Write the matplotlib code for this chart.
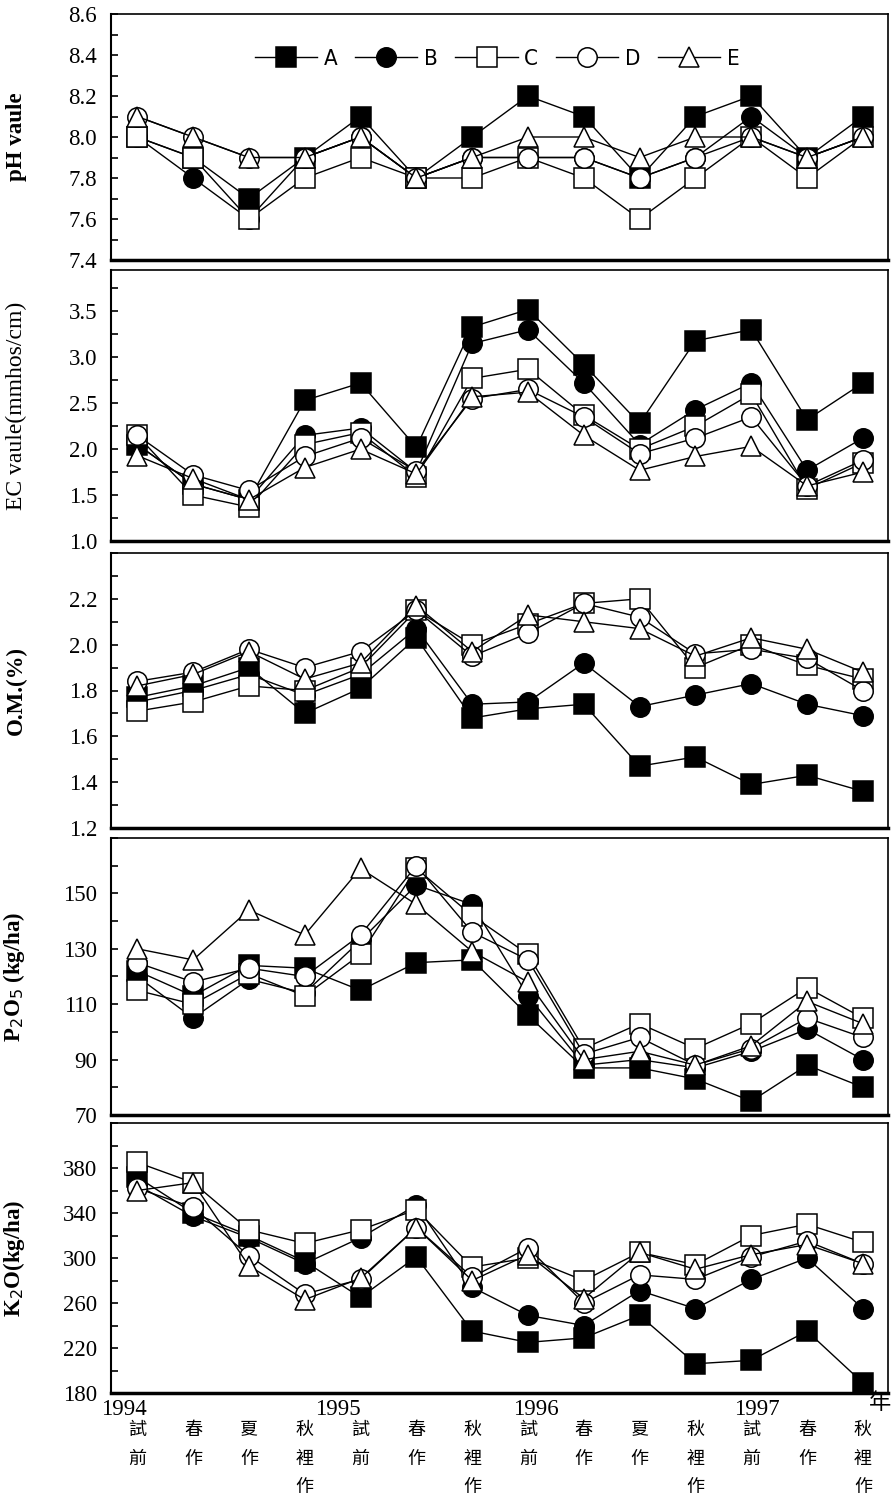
import numpy as np
import matplotlib
matplotlib.use("Agg")
import matplotlib.pyplot as plt
from matplotlib.ticker import FixedLocator, FormatStrFormatter

plt.rcParams['font.family'] = ['Liberation Serif', 'DejaVu Sans']

# x axis: sampling seasons
seasons = ["試\n前", "春\n作", "夏\n作", "秋\n裡\n作", "試\n前", "春\n作", "秋\n裡\n作",
           "試\n前", "春\n作", "夏\n作", "秋\n裡\n作", "試\n前", "春\n作", "秋\n裡\n作"]
years = ["1994", "1995", "1996", "1997"]
year_pos = [-0.23, 3.6, 7.15, 11.1]
treatments = ["A", "B", "C", "D", "E"]

ph_A = [8.0, 7.9, 7.7, 7.9, 8.1, 7.8, 8.0, 8.2, 8.1, 7.8, 8.1, 8.2, 7.9, 8.1]
ph_B = [8.0, 7.8, 7.6, 7.9, 8.0, 7.8, 7.9, 7.9, 7.9, 7.8, 7.9, 8.1, 7.9, 8.0]
ph_C = [8.0, 7.9, 7.6, 7.8, 7.9, 7.8, 7.8, 7.9, 7.8, 7.6, 7.8, 8.0, 7.8, 8.0]
ph_D = [8.1, 8.0, 7.9, 7.9, 8.0, 7.8, 7.9, 7.9, 7.9, 7.8, 7.9, 8.0, 7.9, 8.0]
ph_E = [8.1, 8.0, 7.9, 7.9, 8.0, 7.8, 7.9, 8.0, 8.0, 7.9, 8.0, 8.0, 7.9, 8.0]

ec_A = [2.05, 1.62, 1.45, 2.53, 2.72, 2.02, 3.33, 3.52, 2.92, 2.28, 3.18, 3.30, 2.32, 2.72]
ec_B = [2.05, 1.62, 1.45, 2.15, 2.23, 1.75, 3.15, 3.30, 2.72, 2.05, 2.43, 2.72, 1.77, 2.12]
ec_C = [2.15, 1.50, 1.37, 2.05, 2.18, 1.70, 2.77, 2.87, 2.37, 2.00, 2.25, 2.60, 1.57, 1.85]
ec_D = [2.15, 1.72, 1.55, 1.92, 2.12, 1.76, 2.55, 2.65, 2.35, 1.95, 2.12, 2.35, 1.60, 1.88]
ec_E = [1.93, 1.68, 1.45, 1.80, 2.00, 1.73, 2.57, 2.62, 2.15, 1.77, 1.92, 2.03, 1.60, 1.75]

om_A = [1.77, 1.82, 1.90, 1.70, 1.81, 2.03, 1.68, 1.72, 1.74, 1.47, 1.51, 1.39, 1.43, 1.36]
om_B = [1.75, 1.80, 1.87, 1.78, 1.87, 2.07, 1.74, 1.75, 1.92, 1.73, 1.78, 1.83, 1.74, 1.69]
om_C = [1.71, 1.75, 1.82, 1.80, 1.90, 2.15, 2.00, 2.09, 2.18, 2.20, 1.90, 2.00, 1.91, 1.85]
om_D = [1.84, 1.88, 1.98, 1.90, 1.97, 2.15, 1.95, 2.05, 2.18, 2.12, 1.96, 1.98, 1.94, 1.80]
om_E = [1.82, 1.87, 1.97, 1.85, 1.92, 2.17, 1.97, 2.13, 2.10, 2.07, 1.95, 2.03, 1.98, 1.88]

p_A = [122, 113, 124, 123, 115, 125, 126, 106, 87, 87, 83, 75, 88, 80]
p_B = [120, 105, 119, 114, 133, 153, 146, 113, 88, 90, 87, 93, 101, 90]
p_C = [115, 110, 121, 113, 128, 159, 142, 128, 94, 103, 94, 103, 116, 105]
p_D = [125, 118, 123, 120, 135, 160, 136, 126, 92, 98, 88, 94, 105, 98]
p_E = [130, 126, 144, 135, 159, 146, 129, 118, 90, 93, 88, 95, 111, 103]

k_A = [372, 340, 320, 297, 265, 301, 235, 225, 229, 249, 206, 209, 235, 189]
k_B = [365, 337, 318, 295, 318, 347, 274, 249, 240, 271, 255, 281, 300, 255]
k_C = [385, 367, 325, 313, 325, 343, 292, 300, 280, 305, 294, 320, 330, 314]
k_D = [362, 345, 302, 268, 281, 327, 283, 309, 260, 285, 281, 301, 315, 295]
k_E = [360, 367, 293, 263, 282, 327, 280, 303, 264, 305, 290, 303, 312, 295]

# tick values of each panel (major labelled, minor unlabelled)
ph_ticks = [7.4, 7.6, 7.8, 8.0, 8.2, 8.4, 8.6]
ec_ticks = [1.0, 1.5, 2.0, 2.5, 3.0, 3.5]
om_ticks = [1.2, 1.4, 1.6, 1.8, 2.0, 2.2]
p_ticks = [70, 90, 110, 130, 150]
k_ticks = [180, 220, 260, 300, 340, 380]

panels = [
    ("pH vaule", [ph_A, ph_B, ph_C, ph_D, ph_E], (7.4, 8.6), ph_ticks, 0.1, "%.1f", "bold"),
    ("EC vaule(mmhos/cm)", [ec_A, ec_B, ec_C, ec_D, ec_E], (1.0, 3.95), ec_ticks, 0.25, "%.1f", "normal"),
    ("O.M.(%)", [om_A, om_B, om_C, om_D, om_E], (1.2, 2.4), om_ticks, 0.1, "%.1f", "bold"),
    ("P$_2$O$_5$ (kg/ha)", [p_A, p_B, p_C, p_D, p_E], (70, 170), p_ticks, 10, "%d", "bold"),
    ("K$_2$O(kg/ha)", [k_A, k_B, k_C, k_D, k_E], (180, 420), k_ticks, 20, "%d", "bold"),
]

# pixel boxes of the panels (top, bottom) in a 893x1500 figure
boxes = [(14, 260), (270, 541), (553, 828), (838, 1115), (1123, 1393)]
left_px, right_px = 111, 888
W, H = 893, 1500

markers = ["s", "o", "s", "o", "^"]
faces = ["black", "black", "white", "white", "white"]

fig = plt.figure(figsize=(W / 100, H / 100), dpi=100)
x = np.arange(len(seasons))

axes = []
for i, (label, series, ylim, ticks, minor, fmt, weight) in enumerate(panels):
    top, bot = boxes[i]
    ax = fig.add_axes([left_px / W, 1 - bot / H, (right_px - left_px) / W, (bot - top) / H])
    for j, vals in enumerate(series):
        ax.plot(x, vals, color="black", lw=1.0, marker=markers[j], ms=14,
                mfc=faces[j], mec="black", mew=1.1, label=treatments[j])
    ax.set_xlim(-0.47, 13.45)
    ax.set_ylim(*ylim)
    ax.yaxis.set_major_locator(FixedLocator(ticks))
    ax.yaxis.set_minor_locator(FixedLocator(np.arange(ylim[0], ylim[1] + 1e-9, minor)))
    ax.yaxis.set_major_formatter(FormatStrFormatter(fmt))
    ax.set_xticks([])
    ax.tick_params(axis="y", which="both", direction="in", length=5, width=1.2,
                   labelsize=16.5, pad=10)
    ax.set_ylabel(label, fontsize=17 if i == 1 else 16.5, fontweight=weight)
    ax.yaxis.set_label_coords(-0.108, 0.5)
    ax.spines["left"].set_linewidth(1.5)
    ax.spines["bottom"].set_linewidth(2.5)
    ax.spines["top"].set_linewidth(1.2)
    ax.spines["right"].set_linewidth(1.2)
    axes.append(ax)

axes[0].legend(loc="upper center", bbox_to_anchor=(0.497, 0.94), ncol=5, frameon=False,
               handlelength=2.8, handletextpad=0.3, columnspacing=0.8,
               prop={"family": ["DejaVu Sans Condensed", "DejaVu Sans"],
                     "stretch": "condensed", "size": 16})

# x labels below the bottom panel
axb = axes[-1]
for xi, s in zip(x, seasons):
    axb.text(xi, -0.105, s, transform=axb.get_xaxis_transform(), ha="center", va="top",
             fontsize=13, linespacing=1.75, family=["Noto Sans CJK TC", "DejaVu Sans"])
for yp, yt in zip(year_pos, years):
    axb.text(yp, -0.06, yt, transform=axb.get_xaxis_transform(), ha="center", va="center",
             fontsize=16.5)
axb.text(13.3, -0.035, "年", transform=axb.get_xaxis_transform(), ha="center", va="center",
         fontsize=16, family=["Noto Sans CJK TC", "DejaVu Sans"])

fig.savefig("out.png", dpi=100)
